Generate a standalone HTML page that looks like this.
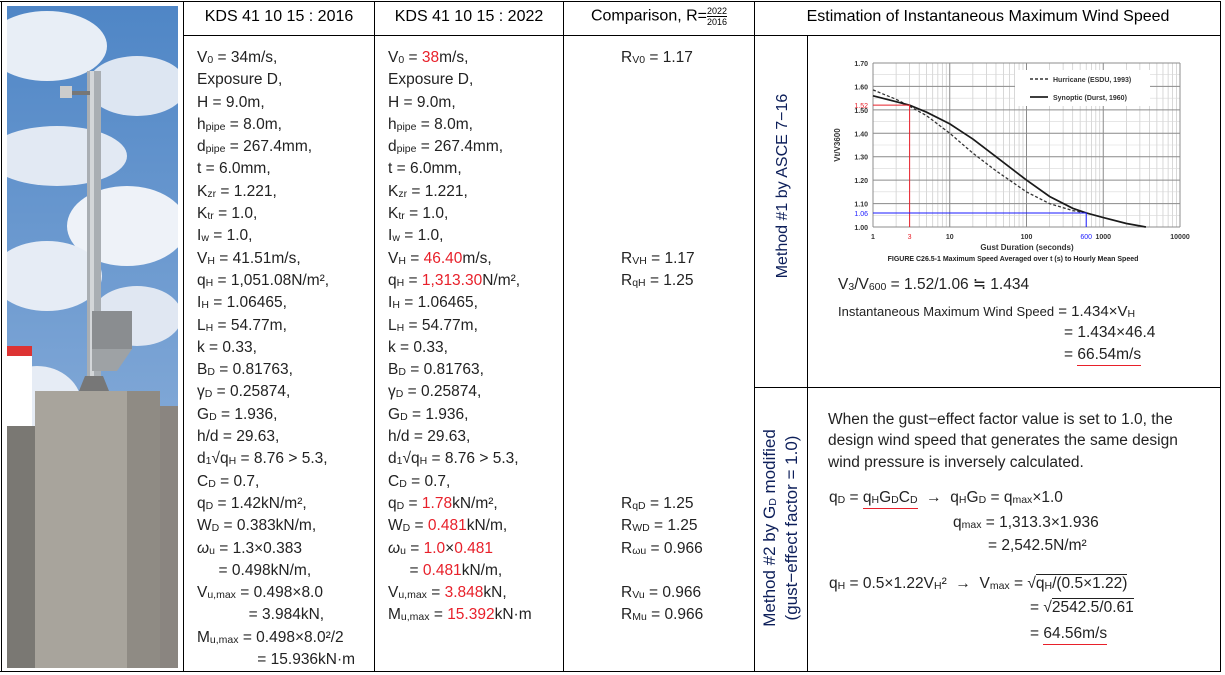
<!DOCTYPE html>
<html><head><meta charset="utf-8">
<style>
body{margin:0;background:#fff;width:1225px;height:675px;position:relative;overflow:hidden;font-family:"Liberation Sans","Noto Sans CJK KR",sans-serif;color:#222}
.a{position:absolute;white-space:nowrap}
.ln{position:absolute;background:#000}
.col{position:absolute;font-size:15.5px;white-space:normal}
.col>div{height:22.3px;line-height:22.3px;overflow:visible;white-space:pre}
.r{color:#e8202a}
sub{font-size:10.5px;vertical-align:-1px;line-height:0}
.hd{position:absolute;top:8px;font-size:16px;color:#000;text-align:center}
.txt{font-size:15.5px;line-height:20px}
</style></head><body>
<svg class="a" style="left:7px;top:6px" width="171" height="662" viewBox="0 0 171 662">
<defs><linearGradient id="sky" x1="0" y1="0" x2="0" y2="1"><stop offset="0" stop-color="#4f86c6"/><stop offset="1" stop-color="#9dbbe0"/></linearGradient></defs>
<rect width="171" height="662" fill="url(#sky)"/>
<ellipse cx="40" cy="40" rx="60" ry="35" fill="#e8eef6"/><ellipse cx="130" cy="80" rx="50" ry="30" fill="#dde6f2"/>
<ellipse cx="50" cy="150" rx="70" ry="30" fill="#e2e9f3"/><ellipse cx="120" cy="220" rx="60" ry="40" fill="#eef2f8"/>
<ellipse cx="40" cy="270" rx="55" ry="35" fill="#e6ecf5"/><ellipse cx="130" cy="310" rx="45" ry="30" fill="#e0e7f2"/>
<ellipse cx="30" cy="400" rx="45" ry="40" fill="#e6ecf5"/><ellipse cx="150" cy="450" rx="50" ry="30" fill="#d8e1ee"/>
<rect x="80" y="65" width="14" height="480" fill="#a9aeb3"/><rect x="83" y="65" width="4" height="480" fill="#d3d6d9"/>
<rect x="58" y="85" width="25" height="4" fill="#777"/><rect x="53" y="80" width="12" height="12" fill="#ccc"/>
<rect x="85" y="305" width="40" height="38" fill="#8a8d90"/><polygon points="85,343 125,343 110,365 85,365" fill="#9ea2a5"/>
<polygon points="72,385 102,385 96,370 78,370" fill="#777"/>
<rect x="28" y="385" width="125" height="277" fill="#a8a49c"/><rect x="120" y="385" width="33" height="277" fill="#8f8b84"/>
<rect x="0" y="340" width="25" height="80" fill="#fff"/><rect x="0" y="340" width="25" height="10" fill="#d33"/>
<rect x="153" y="400" width="18" height="262" fill="#8a8580"/>
<rect x="0" y="420" width="28" height="242" fill="#7a7873"/>
</svg>
<div class="ln" style="left:0;top:1px;width:1221px;height:1px"></div>
<div class="ln" style="left:183px;top:35px;width:1038px;height:1px"></div>
<div class="ln" style="left:0;top:671px;width:1221px;height:1px"></div>
<div class="ln" style="left:1px;top:1px;width:1px;height:671px"></div>
<div class="ln" style="left:183px;top:1px;width:1px;height:671px"></div>
<div class="ln" style="left:374px;top:1px;width:1px;height:671px"></div>
<div class="ln" style="left:563px;top:1px;width:1px;height:671px"></div>
<div class="ln" style="left:754px;top:1px;width:1px;height:671px"></div>
<div class="ln" style="left:1220px;top:1px;width:1px;height:671px"></div>
<div class="ln" style="left:807px;top:35px;width:1px;height:637px"></div>
<div class="ln" style="left:754px;top:387px;width:467px;height:1px"></div>
<div class="hd" style="left:184px;width:190px">KDS 41 10 15 : 2016</div>
<div class="hd" style="left:375px;width:188px">KDS 41 10 15 : 2022</div>
<div class="hd" style="left:564px;width:190px;top:6px">Comparison, R=<span style="display:inline-block;vertical-align:middle;font-size:9px;line-height:10px;text-align:center"><span style="border-bottom:1px solid #000;display:block">2022</span>2016</span></div>
<div class="hd" style="left:755px;width:466px">Estimation of Instantaneous Maximum Wind Speed</div>
<div class="col" style="left:197px;top:47px">
<div>V<sub>0</sub> = 34m/s,</div><div>Exposure D,</div><div>H = 9.0m,</div><div>h<sub>pipe</sub> = 8.0m,</div><div>d<sub>pipe</sub> = 267.4mm,</div><div>t = 6.0mm,</div><div>K<sub>zr</sub> = 1.221,</div><div>K<sub>tr</sub> = 1.0,</div><div>I<sub>w</sub> = 1.0,</div><div>V<sub>H</sub> = 41.51m/s,</div><div>q<sub>H</sub> = 1,051.08N/m², </div><div>I<sub>H</sub> = 1.06465,</div><div>L<sub>H</sub> = 54.77m,</div><div>k = 0.33,</div><div>B<sub>D</sub> = 0.81763,</div><div>γ<sub>D</sub> = 0.25874,</div><div>G<sub>D</sub> = 1.936,</div><div>h/d = 29.63,</div><div>d<sub>1</sub>√q<sub>H</sub> = 8.76 &gt; 5.3,</div><div>C<sub>D</sub> = 0.7,</div><div>q<sub>D</sub> = 1.42kN/m², </div><div>W<sub>D</sub> = 0.383kN/m,</div><div><i>ω</i><sub>u</sub> = 1.3×0.383</div><div>     = 0.498kN/m,</div><div>V<sub>u,max</sub> = 0.498×8.0</div><div>            = 3.984kN,</div><div>M<sub>u,max</sub> = 0.498×8.0²/2</div><div>              = 15.936kN·m</div>
</div>
<div class="col" style="left:388px;top:47px">
<div>V<sub>0</sub> = <span class="r">38</span>m/s,</div><div>Exposure D,</div><div>H = 9.0m,</div><div>h<sub>pipe</sub> = 8.0m,</div><div>d<sub>pipe</sub> = 267.4mm,</div><div>t = 6.0mm,</div><div>K<sub>zr</sub> = 1.221,</div><div>K<sub>tr</sub> = 1.0,</div><div>I<sub>w</sub> = 1.0,</div><div>V<sub>H</sub> = <span class="r">46.40</span>m/s,</div><div>q<sub>H</sub> = <span class="r">1,313.30</span>N/m², </div><div>I<sub>H</sub> = 1.06465,</div><div>L<sub>H</sub> = 54.77m,</div><div>k = 0.33,</div><div>B<sub>D</sub> = 0.81763,</div><div>γ<sub>D</sub> = 0.25874,</div><div>G<sub>D</sub> = 1.936,</div><div>h/d = 29.63,</div><div>d<sub>1</sub>√q<sub>H</sub> = 8.76 &gt; 5.3,</div><div>C<sub>D</sub> = 0.7,</div><div>q<sub>D</sub> = <span class="r">1.78</span>kN/m², </div><div>W<sub>D</sub> = <span class="r">0.481</span>kN/m,</div><div><i>ω</i><sub>u</sub> = <span class="r">1.0</span>×<span class="r">0.481</span></div><div>     = <span class="r">0.481</span>kN/m,</div><div>V<sub>u,max</sub> = <span class="r">3.848</span>kN,</div><div>M<sub>u,max</sub> = <span class="r">15.392</span>kN·m</div>
</div>
<div class="col" style="left:621px;top:47px">
<div>R<sub>V0</sub> = 1.17</div><div></div><div></div><div></div><div></div><div></div><div></div><div></div><div></div><div>R<sub>VH</sub> = 1.17</div><div>R<sub>qH</sub> = 1.25</div><div></div><div></div><div></div><div></div><div></div><div></div><div></div><div></div><div></div><div>R<sub>qD</sub> = 1.25</div><div>R<sub>WD</sub> = 1.25</div><div>R<sub>ωu</sub> = 0.966</div><div></div><div>R<sub>Vu</sub> = 0.966</div><div>R<sub>Mu</sub> = 0.966</div>
</div>
<div class="a" style="left:783px;top:186px;transform:translate(-50%,-50%) rotate(-90deg);font-size:16px;color:#0d1f5a">Method #1 by ASCE 7−16</div>
<div class="a" style="left:781px;top:528px;transform:translate(-50%,-50%) rotate(-90deg);font-size:17px;color:#0d1f5a;text-align:center;line-height:22px">Method #2 by G<sub>D</sub> modified<br>(gust−effect factor = 1.0)</div>
<svg class="a" id="chart" style="left:0;top:0" width="1225" height="675"></svg>
<div class="a txt" style="left:838px;top:275px">V<sub>3</sub>/V<sub>600</sub> = 1.52/1.06 ≒ 1.434</div>
<div class="a" style="left:838px;top:302px;font-size:15px;line-height:20px"><span style="font-size:13px">Instantaneous Maximum Wind Speed</span> = 1.434×V<sub>H</sub></div>
<div class="a txt" style="left:1064px;top:323px">= 1.434×46.4</div>
<div class="a txt" style="left:1064px;top:345px">= <span style="border-bottom:1px solid #e8202a;padding-bottom:2px">66.54m/s</span></div>
<div class="a" style="left:828px;top:409px;font-size:15.5px;line-height:21.3px">When the gust−effect factor value is set to 1.0, the<br>design wind speed that generates the same design<br>wind pressure is inversely calculated.</div>
<div class="a txt" style="left:829px;top:488px">q<sub>D</sub> = <span style="border-bottom:1px solid #e8202a;padding-bottom:2px">q<sub>H</sub>G<sub>D</sub>C<sub>D</sub></span> &nbsp;→ &nbsp;q<sub>H</sub>G<sub>D</sub> = q<sub>max</sub>×1.0</div>
<div class="a txt" style="left:953px;top:513px">q<sub>max</sub> = 1,313.3×1.936</div>
<div class="a txt" style="left:988px;top:536px">= 2,542.5N/m²</div>
<div class="a txt" style="left:829px;top:574px">q<sub>H</sub> = 0.5×1.22V<sub>H</sub>² &nbsp;→ &nbsp;V<sub>max</sub> = √<span style="border-top:1px solid #222">q<sub>H</sub>/(0.5×1.22)</span></div>
<div class="a txt" style="left:1030px;top:598px">= √<span style="border-top:1px solid #222">2542.5/0.61</span></div>
<div class="a txt" style="left:1030px;top:624px">= <span style="border-bottom:1px solid #e8202a;padding-bottom:2px">64.56m/s</span></div>
<script>
const yTicks=[1.0,1.1,1.2,1.3,1.4,1.5,1.6,1.7];
const yTickLabels=["1.00","1.10","1.20","1.30","1.40","1.50","1.60","1.70"];
const xDecades=[1,10,100,1000,10000];
const xTickLabels=["1","10","100","1000","10000"];
const synT=[1,2,3,5,10,20,40,100,200,400,600,1000,2000,3600];
const synV=[1.56,1.535,1.52,1.49,1.44,1.375,1.30,1.20,1.13,1.08,1.06,1.04,1.015,1.00];
const hurT=[1,2,3,5,10,20,40,100,200,400,600];
const hurV=[1.585,1.545,1.515,1.475,1.40,1.315,1.24,1.15,1.10,1.07,1.06];
const markT=[3,600];
const markV=[1.52,1.06];
const markLabelsY=["1.52","1.06"];
const markLabelsX=["3","600"];
const markColors=["#e8202a","#1a1aff"];
const NS="http://www.w3.org/2000/svg";
const svg=document.getElementById('chart');
const X0=873,X1=1180,Y0=227,Y1=63;
const xs=t=>X0+(Math.log10(t)/4)*(X1-X0);
const ys=v=>Y0-(v-1.0)/0.7*(Y0-Y1);
function mk(tag,attrs){const e=document.createElementNS(NS,tag);for(const k in attrs)e.setAttribute(k,attrs[k]);svg.appendChild(e);return e;}
const bg=mk('rect',{x:X0,y:Y1,width:X1-X0,height:Y0-Y1,fill:'#fff'});


for(let d=0;d<4;d++){for(let m=2;m<=9;m++){const l=mk('line',{x1:xs(Math.pow(10,d)*m),x2:xs(Math.pow(10,d)*m),y1:Y1,y2:Y0,stroke:'#c8c8c8','stroke-width':0.7});

}}
for(let v=1.0;v<1.7;v+=0.05){const l=mk('line',{x1:X0,x2:X1,y1:ys(v),y2:ys(v),stroke:'#d8d8d8','stroke-width':0.6});

}
yTicks.forEach((v,i)=>{const l=mk('line',{x1:X0,x2:X1,y1:ys(v),y2:ys(v),stroke:'#8c8c8c','stroke-width':1});


const t=mk('text',{x:X0-5,y:ys(v)+3,'text-anchor':'end','font-size':7,'font-weight':'bold',fill:'#333'});t.textContent=yTickLabels[i];

});
xDecades.forEach((d,i)=>{const l=mk('line',{x1:xs(d),x2:xs(d),y1:Y1,y2:Y0,stroke:'#8c8c8c','stroke-width':1});


const t=mk('text',{x:xs(d),y:Y0+12,'text-anchor':'middle','font-size':7,'font-weight':'bold',fill:'#333'});t.textContent=xTickLabels[i];

});
const lg=mk('rect',{x:1015,y:70,width:135,height:36,fill:'#fff'});


const l1=mk('line',{x1:1030,x2:1048,y1:79,y2:79,stroke:'#333','stroke-width':1.5,'stroke-dasharray':'3,2'});


const t1=mk('text',{x:1053,y:82,'font-size':7,'font-weight':'bold',fill:'#333'});t1.textContent='Hurricane (ESDU, 1993)';


const l2=mk('line',{x1:1030,x2:1048,y1:97,y2:97,stroke:'#222','stroke-width':1.8});


const t2=mk('text',{x:1053,y:100,'font-size':7,'font-weight':'bold',fill:'#333'});t2.textContent='Synoptic (Durst, 1960)';


function path(T,V){return T.map((t,i)=>(i?'L':'M')+xs(t).toFixed(1)+','+ys(V[i]).toFixed(1)).join(' ');}
const ph=mk('path',{d:path(hurT,hurV),fill:'none',stroke:'#333','stroke-width':1.3,'stroke-dasharray':'3,2'});


const ps=mk('path',{d:path(synT,synV),fill:'none',stroke:'#1a1a1a','stroke-width':1.7});


markT.forEach((t,i)=>{const c=markColors[i];
const p=mk('polyline',{points:`${X0},${ys(markV[i])} ${xs(t)},${ys(markV[i])} ${xs(t)},${Y0}`,fill:'none',stroke:c,'stroke-width':1});


const a=mk('text',{x:X0-5,y:ys(markV[i])+3,'text-anchor':'end','font-size':7,fill:c});a.textContent=markLabelsY[i];


const b=mk('text',{x:xs(t),y:Y0+12,'text-anchor':'middle','font-size':7,fill:c});b.textContent=markLabelsX[i];

});
const xt=mk('text',{x:1027,y:250,'text-anchor':'middle','font-size':8,'font-weight':'bold',fill:'#333'});xt.textContent='Gust Duration (seconds)';


const yt=mk('text',{x:840,y:145,'text-anchor':'middle','font-size':8,'font-weight':'bold',fill:'#333',transform:'rotate(-90 840 145)'});yt.textContent='Vt/V3600';


const cap=mk('text',{x:1013,y:261,'text-anchor':'middle','font-size':7,'font-weight':'bold',fill:'#222'});cap.textContent='FIGURE C26.5-1 Maximum Speed Averaged over t (s) to Hourly Mean Speed';


</script>
</body></html>
